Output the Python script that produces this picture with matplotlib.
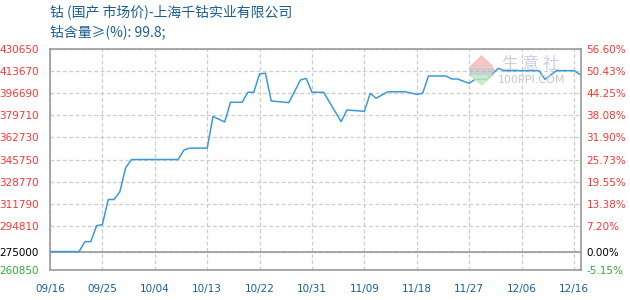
import matplotlib
matplotlib.use("Agg")
import matplotlib.pyplot as plt
from matplotlib.patches import Polygon, Rectangle

plt.rcParams['font.family'] = ['Noto Sans CJK SC', 'DejaVu Sans']

# day index from 09/16 and cobalt price (yuan/t)
days = [0, 5, 6, 7, 8, 9, 10, 11, 12, 13, 14, 22, 23, 24, 27, 28, 30, 31, 33,
        34, 35, 36, 37, 38, 41, 42, 43, 44, 45, 47, 50, 51, 54, 55, 56, 58, 61,
        63, 64, 65, 68, 69, 70, 72, 73, 75, 77, 78, 84, 85, 87, 90, 91]
prices = [275000, 275000, 282600, 282600, 294800, 295800, 315000, 315000,
          321000, 339500, 345750, 345750, 353000, 354500, 354500, 378800,
          374600, 389700, 389700, 397400, 397400, 411600, 412000, 390700,
          389500, 397800, 406800, 408100, 397400, 397400, 374800, 383800,
          382800, 396600, 392800, 397800, 397800, 395800, 396600, 409900,
          409900, 407600, 407600, 404300, 407400, 407400, 415800, 414000,
          414000, 407400, 414000, 414000, 411200]

base = 275000
yticks = [260850, 275000, 294810, 311790, 328770, 345750, 362730, 379710,
          396690, 413670, 430650]
xtick_pos = [0, 9, 18, 27, 36, 45, 54, 63, 72, 81, 90]
xtick_labels = ['09/16', '09/25', '10/04', '10/13', '10/22', '10/31',
                '11/09', '11/18', '11/27', '12/06', '12/16']

red = '#ff3333'
green = '#33aa33'
blue_text = '#1b5e8f'
grid_c = '#cccccc'


def tick_color(v):
    if v == base:
        return 'black'
    if v < base:
        return green
    return red


fig = plt.figure(figsize=(6.3, 3.0), dpi=100)
ax = fig.add_axes([50 / 630, 0.1, 531 / 630, 221 / 300])

ax.plot(days, prices, color='#3a9ad9', lw=1.1, zorder=3)
ax.axhline(base, color='#999999', lw=1.2, zorder=2)

ax.set_xlim(0, 91.2)
ax.set_ylim(yticks[0], yticks[-1])
ax.set_yticks(yticks)
ax.set_yticklabels([str(v) for v in yticks])
ax.set_xticks(xtick_pos)
ax.set_xticklabels(xtick_labels)
ax.grid(True, color=grid_c, ls=(0, (3, 2)), lw=0.9)
ax.tick_params(axis='both', length=0, labelsize=7.5)
ax.tick_params(axis='y', pad=8)
ax.tick_params(axis='x', pad=10, labelcolor=blue_text)
for lab, v in zip(ax.get_yticklabels(), yticks):
    lab.set_color(tick_color(v))
    lab.set_family('DejaVu Sans')
for lab in ax.get_xticklabels():
    lab.set_family('DejaVu Sans')
for s in ax.spines.values():
    s.set_color('#999999')
    s.set_linewidth(1.2)

ax2 = ax.twinx()
ax2.set_ylim(ax.get_ylim())
ax2.set_yticks(yticks)
ax2.set_yticklabels(['%.2f%%' % ((v - base) / base * 100) for v in yticks])
ax2.tick_params(axis='y', length=0, labelsize=7.5, pad=4)
for lab, v in zip(ax2.get_yticklabels(), yticks):
    lab.set_color(tick_color(v))
    lab.set_family('DejaVu Sans')
for s in ax2.spines.values():
    s.set_visible(False)

# titles
fig.text(50 / 630, 1 - 12 / 300, '钴 (国产 市场价)-上海千钴实业有限公司',
         fontsize=10, color=blue_text, va='center', ha='left')
fig.text(50 / 630, 1 - 32 / 300, '钴含量≥(%): 99.8;',
         fontsize=10, color=blue_text, va='center', ha='left')

# watermark
W, H = 630, 300
fig.patches.append(Polygon([(470 / W, 1 - 67 / H), (493 / W, 1 - 67 / H),
                            (481.5 / W, 1 - 56 / H)], closed=True,
                           transform=fig.transFigure, color='#f4b8b8',
                           alpha=0.8, zorder=5))
fig.patches.append(Rectangle((470 / W, 1 - 74 / H), 23 / W, 6 / H,
                             transform=fig.transFigure, color='#b0b0b8',
                             alpha=0.6, zorder=5))
fig.patches.append(Polygon([(470 / W, 1 - 75 / H), (493 / W, 1 - 75 / H),
                            (481.5 / W, 1 - 85 / H)], closed=True,
                           transform=fig.transFigure, color='#bfe8bf',
                           alpha=0.8, zorder=5))
fig.text(531 / W, 1 - 65 / H, '生 意 社', fontsize=12, color='#c4cbe0',
         ha='center', va='center', alpha=0.9, zorder=6)
fig.text(532 / W, 1 - 80 / H, '100PPI.COM', fontsize=8, color='#c8c8c8',
         ha='center', va='center', family='DejaVu Sans', zorder=6)

fig.savefig('out.png', dpi=100)
